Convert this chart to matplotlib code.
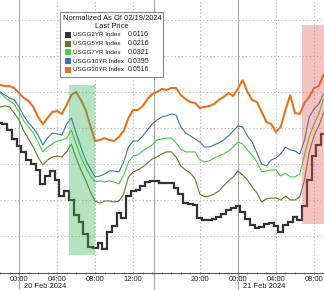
import matplotlib
matplotlib.use("Agg")
import matplotlib.pyplot as plt
from matplotlib.patches import Rectangle
import numpy as np
import pandas as pd

plt.rcParams['font.family'] = ['Liberation Sans', 'DejaVu Sans']

# ---------------- data ----------------
names = ["USGG2YR Index", "USGG5YR Index", "USGG7YR Index", "USGG10YR Index", "USGG30YR Index"]
last_price = [0.0116, 0.0216, 0.0321, 0.0395, 0.0516]
colors = ["#333333", "#5e7d22", "#3fd43f", "#3a74b0", "#e8731c"]
widths = [1.6, 0.8, 0.8, 0.8, 1.5]

times = pd.date_range("2024-02-19 22:00", "2024-02-20 17:00", freq="30min").append(
    pd.date_range("2024-02-20 18:30", "2024-02-21 09:00", freq="30min"))

# normalized change (bp)
y2 = [0.28, 0.22, -0.11, -0.61, -1.0, -1.33, -1.78, -2.0, -2.33, -3.11,
      -2.67, -2.39, -2.89, -3.78, -3.5, -4.0, -4.83, -5.22, -5.89, -6.61,
      -6.67, -6.39, -6.72, -5.78, -5.44, -4.72, -5.0, -3.78, -3.5, -3.44,
      -3.22, -3.0, -2.94, -2.94, -3.06, -3.06, -3.06, -3.33, -3.67,
      -4.17, -4.22, -4.28, -5.0, -5.11, -5.11, -5.06, -4.94, -4.78, -4.56,
      -4.44, -4.33, -4.67, -5.06, -5.39, -5.56, -5.5, -5.33, -5.28, -5.44,
      -5.78, -5.39, -5.22, -4.94, -5.11, -4.33, -2.89, -1.56, -0.94, -0.33]
y5 = [1.17, 1.22, 1.17, 0.83, 0.44, -0.17, -0.61, -1.06, -1.61, -2.06,
      -1.78, -1.61, -1.56, -1.61, -1.33, -0.89, -1.67, -2.33, -2.89, -3.56,
      -4.06, -4.17, -4.06, -4.06, -4.11, -4.06, -3.67, -2.72, -2.44, -2.33,
      -2.17, -1.94, -1.72, -1.61, -1.44, -1.33, -1.33, -1.61, -2.11,
      -2.33, -2.5, -2.83, -3.67, -3.83, -3.78, -3.67, -3.5, -3.22, -2.94,
      -2.72, -2.39, -2.61, -2.89, -3.28, -3.61, -4.11, -3.94, -3.89, -3.89,
      -4.0, -3.78, -4.0, -4.0, -3.83, -2.89, -1.33, -0.44, 0.11, 0.83]
y7 = [1.94, 1.72, 1.5, 1.33, 0.89, 0.39, 0.06, -0.28, -0.78, -1.33,
      -1.06, -0.89, -0.72, -0.67, -0.56, -0.11, -0.89, -1.61, -2.17, -2.67,
      -3.0, -2.94, -3.0, -2.94, -3.0, -3.11, -2.61, -1.89, -1.56, -1.5,
      -1.28, -1.11, -0.94, -0.67, -0.61, -0.56, -0.56, -0.83, -1.17,
      -1.33, -1.33, -1.33, -1.78, -1.89, -1.83, -1.67, -1.56, -1.44, -1.28,
      -1.06, -0.78, -0.89, -1.22, -1.5, -1.89, -2.44, -2.39, -2.33, -2.33,
      -2.67, -2.5, -2.72, -2.72, -2.56, -1.5, -0.5, 0.22, 0.78, 1.61]
y10 = [2.0, 1.83, 1.67, 1.56, 1.17, 0.67, 0.28, 0.0, -0.39, -0.94,
       -0.56, -0.28, -0.33, -0.39, 0.22, 0.56, -0.28, -1.06, -1.78, -2.28,
       -2.72, -2.67, -2.56, -2.39, -2.39, -2.44, -1.89, -1.06, -0.72, -0.72,
       -0.44, -0.11, 0.22, 0.44, 0.61, 0.67, 0.78, 0.72, 0.06,
       -0.28, -0.44, -0.61, -0.78, -1.06, -1.06, -0.94, -0.83, -0.67, -0.44,
       -0.17, 0.11, 0.06, -0.44, -0.78, -1.39, -2.0, -2.11, -1.78, -1.67,
       -1.44, -1.06, -1.22, -1.28, -1.44, -0.67, 0.61, 1.06, 1.33, 1.89]
y30 = [2.39, 2.33, 2.33, 2.22, 1.94, 1.67, 1.5, 1.17, 0.61, 0.22,
       0.56, 0.89, 0.94, 0.78, 1.28, 1.83, 2.0, 1.56, 1.0, 0.11,
       -0.72, -0.67, -0.56, -0.67, -0.72, -0.5, -0.17, 0.56, 1.0, 1.0,
       1.22, 1.61, 1.89, 2.0, 2.17, 2.11, 2.22, 2.22, 1.83,
       1.61, 1.44, 1.39, 1.11, 1.17, 1.22, 1.33, 1.56, 1.72, 1.94,
       1.78, 2.17, 2.67, 2.0, 1.56, 1.44, 0.89, 0.33, 0.22, -0.22,
       0.06, 1.0, 1.83, 0.83, 0.78, 1.39, 1.72, 2.22, 2.33, 2.94]
series = [y2, y5, y7, y10, y30]

tick_times = pd.to_datetime(["2024-02-20 00:00", "2024-02-20 04:00", "2024-02-20 08:00",
                             "2024-02-20 12:00", "2024-02-20 20:00", "2024-02-21 00:00",
                             "2024-02-21 04:00", "2024-02-21 08:00"])
tick_labels = ["00:00", "04:00", "08:00", "12:00", "20:00", "00:00", "04:00", "08:00"]
day_labels = ["20 Feb 2024", "21 Feb 2024"]
day_starts = pd.to_datetime(["2024-02-20 00:00", "2024-02-21 00:00"])
session_line = pd.to_datetime(["2024-02-20 14:08"])
green_span = pd.to_datetime(["2024-02-20 05:15", "2024-02-20 08:00"])
red_span = pd.to_datetime(["2024-02-21 06:45", "2024-02-21 09:30"])

ORIGIN = pd.Timestamp("2024-02-20 00:00")
GAP_START, GAP_LEN = 17.0, 1.0   # 17:00-18:00 break removed from axis


def tpos(ts):
    h = (pd.DatetimeIndex(ts) - ORIGIN) / pd.Timedelta(hours=1)
    h = np.asarray(h, dtype=float)
    return np.where(h > GAP_START, np.maximum(h - GAP_LEN, GAP_START), h)


x = tpos(times)

# ---------------- figure ----------------
W, H = 324, 290
fig = plt.figure(figsize=(W / 100, H / 100), dpi=100)
ax = fig.add_axes([0, 17.5 / H, 1, 272.5 / H])
ax.set_xlim(-1.885, 32.05)
ax.set_ylim(-8.03, 7.11)

for s in ["left", "right", "top"]:
    ax.spines[s].set_visible(False)
ax.spines["bottom"].set_color("#555555")
ax.spines["bottom"].set_linewidth(0.8)
ax.set_yticks([])

# grid
for gy in [6, 4, 2, 0, -2, -4, -6]:
    ax.axhline(gy, color="#b5b5b5", lw=0.8, ls=(0, (1, 2.2)), zorder=0)
tx = tpos(tick_times)
for lab_x, ts in zip(tx, tick_times):
    if ts.hour != 0:
        ax.axvline(lab_x, color="#b5b5b5", lw=0.8, ls=(0, (1, 2.2)), zorder=0)
for sx in list(tpos(day_starts)) + list(tpos(session_line)):
    ax.axvline(sx, ymin=-0.07, ymax=1, color="#a8a8a8", lw=0.8, zorder=0, clip_on=False)

# lines
for i, (yv, c, w) in enumerate(zip(series, colors, widths)):
    ds = "steps-mid" if i == 0 else "default"
    ax.plot(x, yv, color=c, lw=w, drawstyle=ds, zorder=2 + i, solid_joinstyle="miter")

# shaded regions (drawn over lines)
gx = tpos(green_span)
ax.add_patch(Rectangle((gx[0], -7.06), gx[1] - gx[0], 2.39 + 7.06,
                       facecolor=(62 / 255, 180 / 255, 92 / 255), alpha=0.38,
                       edgecolor="none", zorder=10))
rx = tpos(red_span)
ax.add_patch(Rectangle((rx[0], -5.33), rx[1] - rx[0], 5.72 + 5.33,
                       facecolor=(232 / 255, 90 / 255, 90 / 255), alpha=0.36,
                       edgecolor="none", zorder=10))

# x ticks
ax.set_xticks(tx)
ax.set_xticklabels(tick_labels)
ax.set_xticks(tpos(pd.date_range("2024-02-19 22:00", "2024-02-21 09:00", freq="1h")), minor=True)
ax.tick_params(axis="x", which="major", length=2, width=0.6, color="#555555",
               labelsize=5.4, pad=1.2, labelcolor="#222222", direction="inout")
ax.tick_params(axis="x", which="minor", length=1.5, width=0.5, color="#555555", direction="inout")

dx = tpos(day_starts)
for d, lab in zip(dx, day_labels):
    ax.text(d + 0.52, -0.052, lab, transform=ax.get_xaxis_transform(),
            ha="left", va="center", fontsize=5.4, color="#222222", clip_on=False)

# legend box (custom, figure pixel coordinates)
def fx(px):
    return px / W


def fy(py):
    return 1 - py / H


fig.patches.append(Rectangle((fx(60), fy(77)), fx(163) - fx(60), fy(12) - fy(77),
                             transform=fig.transFigure, facecolor="white",
                             edgecolor="#8a8a8a", lw=0.8, zorder=20))
fig.text(fx(112), fy(19), "Normalized As Of 02/19/2024", ha="center", va="center",
         fontsize=5.4, color="#222222", zorder=21)
fig.text(fx(112), fy(27), "Last Price", ha="center", va="center",
         fontsize=5.4, color="#222222", zorder=21)
for k, (nm, lp, c) in enumerate(zip(names, last_price, colors)):
    yy = 35 + 8.7 * k
    fig.patches.append(Rectangle((fx(65), fy(yy + 3)), fx(6), 6 / H,
                                 transform=fig.transFigure, facecolor=c,
                                 edgecolor="none", zorder=21))
    fig.text(fx(73), fy(yy), nm, ha="left", va="center", fontsize=4.5,
             color="#222222", zorder=21)
    fig.text(fx(128), fy(yy), f"{lp:.4f}", ha="left", va="center", fontsize=5.0,
             color="#222222", zorder=21)

fig.savefig("out.png", dpi=100)
